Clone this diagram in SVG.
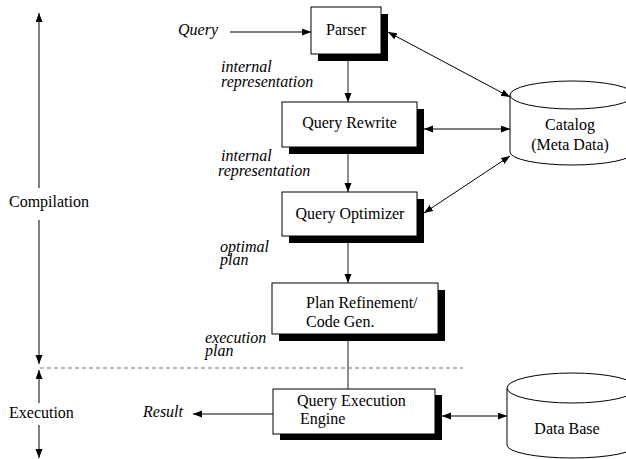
<svg xmlns="http://www.w3.org/2000/svg" width="626" height="459" viewBox="0 0 626 459">
<style>
text{font-family:"Liberation Serif","Times New Roman",serif;font-size:16px;fill:#000}
.it{font-style:italic}
.mid{text-anchor:middle}
.box{fill:#fff;stroke:#000;stroke-width:1}
.sh{fill:#000}
.ln{stroke:#000;stroke-width:1;fill:none}
.gl{stroke:#444;stroke-width:1.2;fill:none}
.cyl{fill:#fff;stroke:#000;stroke-width:1}
</style>
<defs>
<marker id="ah" markerUnits="userSpaceOnUse" markerWidth="10" markerHeight="8" refX="9" refY="3.5" orient="auto-start-reverse">
<path d="M0,0 L9,3.5 L0,7 z" fill="#000"/>
</marker>
</defs>
<rect width="626" height="459" fill="#fff"/>
<g id="connectors">
<line class="ln" x1="230" y1="32" x2="311" y2="32" marker-end="url(#ah)"/>
<line class="gl" x1="348" y1="61" x2="348" y2="102" marker-end="url(#ah)"/>
<line class="gl" x1="348" y1="154" x2="348" y2="192" marker-end="url(#ah)"/>
<line class="gl" x1="348" y1="243" x2="348" y2="283" marker-end="url(#ah)"/>
<line class="gl" x1="348" y1="341" x2="348" y2="389"/>
<line class="ln" x1="273" y1="414" x2="193" y2="414" marker-end="url(#ah)"/>
<line class="ln" x1="442" y1="416" x2="507" y2="416" marker-start="url(#ah)" marker-end="url(#ah)"/>
<line class="ln" x1="388" y1="32" x2="510" y2="97" marker-start="url(#ah)" marker-end="url(#ah)"/>
<line class="ln" x1="424" y1="129" x2="510" y2="129" marker-start="url(#ah)" marker-end="url(#ah)"/>
<line class="ln" x1="424" y1="213" x2="510" y2="156" marker-start="url(#ah)" marker-end="url(#ah)"/>
<line class="ln" x1="39" y1="13" x2="39" y2="188" marker-start="url(#ah)"/>
<line class="ln" x1="39" y1="220" x2="39" y2="364" marker-end="url(#ah)"/>
<line class="ln" x1="39" y1="370" x2="39" y2="403" marker-start="url(#ah)"/>
<line class="ln" x1="39" y1="425" x2="39" y2="458" marker-end="url(#ah)"/>
<line x1="40" y1="368" x2="463" y2="368" stroke="#777" stroke-width="1.2" stroke-dasharray="4,3"/>
</g>
<g id="parser">
<rect class="sh" x="318" y="14" width="70" height="47"/>
<rect class="box" x="311" y="7" width="70" height="47"/>
<text class="mid" x="346" y="35">Parser</text>
</g>
<g id="query-rewrite">
<rect class="sh" x="289" y="109" width="135" height="45"/>
<rect class="box" x="282" y="102" width="135" height="45"/>
<text class="mid" x="349.5" y="128">Query Rewrite</text>
</g>
<g id="query-optimizer">
<rect class="sh" x="289" y="199" width="135" height="44"/>
<rect class="box" x="282" y="192" width="135" height="44"/>
<text class="mid" x="350" y="219">Query Optimizer</text>
</g>
<g id="plan-refinement">
<rect class="sh" x="279" y="290" width="166" height="51"/>
<rect class="box" x="272" y="283" width="166" height="51"/>
<text x="306" y="308">Plan Refinement/</text>
<text x="306" y="327">Code Gen.</text>
</g>
<g id="query-execution-engine">
<rect class="sh" x="280" y="395" width="162" height="45"/>
<rect class="box" x="273" y="389" width="162" height="45"/>
<text x="297" y="406">Query Execution</text>
<text x="300" y="424">Engine</text>
</g>
<g id="catalog">
<path class="cyl" d="M510,95 L510,152 A62,13 0 0 0 634,152 L634,95 Z"/>
<ellipse class="cyl" cx="572" cy="95" rx="62" ry="14"/>
<text class="mid" x="570" y="130">Catalog</text>
<text class="mid" x="570" y="150">(Meta Data)</text>
</g>
<g id="data-base">
<path class="cyl" d="M507,388 L507,445 A65,13 0 0 0 637,445 L637,388 Z"/>
<ellipse class="cyl" cx="572" cy="388" rx="65" ry="15"/>
<text class="mid" x="567" y="434">Data Base</text>
</g>
<g id="labels">
<text class="it" x="178" y="35">Query</text>
<text class="it" x="221" y="72">internal</text>
<text class="it" x="221" y="87">representation</text>
<text class="it" x="221" y="161">internal</text>
<text class="it" x="218" y="176">representation</text>
<text class="it" x="220" y="252">optimal</text>
<text class="it" x="220" y="265">plan</text>
<text class="it" x="205" y="343">execution</text>
<text class="it" x="205" y="356">plan</text>
<text class="it" x="143" y="417">Result</text>
<text x="9" y="207">Compilation</text>
<text x="9" y="418">Execution</text>
</g>
</svg>
